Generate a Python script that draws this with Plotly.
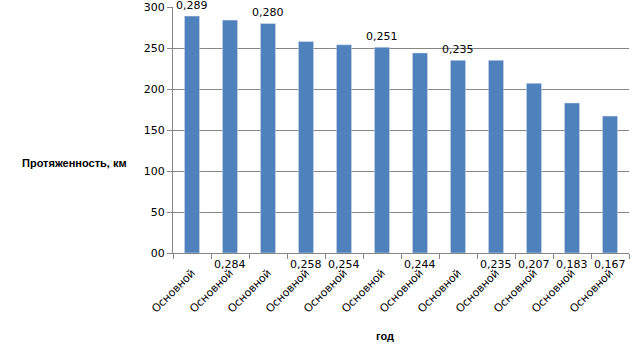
import plotly.graph_objects as go

categories = ["Основной"] * 12
values = [289, 284, 280, 258, 254, 251, 244, 235, 235, 207, 183, 167]
labels = ["0,289", "0,284", "0,280", "0,258", "0,254", "0,251",
          "0,244", "0,235", "0,235", "0,207", "0,183", "0,167"]
label_above = [True, False, True, False, False, True, False, True, False, False, False, False]
y_ticks = [0, 50, 100, 150, 200, 250, 300]
y_ticktext = ["00", "50", "100", "150", "200", "250", "300"]

FONT = "DejaVu Sans"
GRAY = "#868686"
x = list(range(len(values)))

fig = go.Figure()
fig.add_trace(go.Bar(x=x, y=values, marker_color="#4F81BD", width=0.4,
                     hoverinfo="skip", showlegend=False))
# invisible trace to activate the boundary tick axis
fig.add_trace(go.Scatter(x=[x[0]], y=[0], xaxis="x2", mode="markers",
                         marker=dict(opacity=0), showlegend=False, hoverinfo="skip"))

annotations = []
for xi, v, lab, above in zip(x, values, labels, label_above):
    if above:
        annotations.append(dict(x=xi, y=v, xref="x", yref="y", text=lab, showarrow=False,
                                yanchor="bottom", yshift=2,
                                font=dict(family=FONT, size=11, color="#000")))
    else:
        annotations.append(dict(x=xi, y=0, xref="x", yref="y", text=lab, showarrow=False,
                                yanchor="top", yshift=-3,
                                font=dict(family=FONT, size=11, color="#000")))

annotations.append(dict(x=20, y=163, xref="paper", yref="paper", text="<b>Протяженность, км</b>",
                        showarrow=False, xanchor="left", yanchor="middle",
                        font=dict(family="Liberation Sans", size=11, color="#000")))
annotations.append(dict(x=385, y=336, xref="paper", yref="paper", text="<b>год</b>",
                        showarrow=False, xanchor="center", yanchor="middle",
                        font=dict(family="Liberation Sans", size=11, color="#000")))

# convert pixel annotation positions to paper coords
W, H = 642, 362
L, R, T, B = 173, 13, 7, 109
pw, ph = W - L - R, H - T - B
for a in annotations[-2:]:
    a["x"] = (a["x"] - L) / pw
    a["y"] = (H - B - a["y"]) / ph

fig.update_layout(
    width=W, height=H,
    margin=dict(l=L, r=R, t=T, b=B, autoexpand=False),
    paper_bgcolor="white", plot_bgcolor="white",
    bargap=0.6,
    font=dict(family=FONT, size=11, color="#000"),
    xaxis=dict(range=[-0.5, 11.5], tickvals=x, ticktext=categories, tickangle=-45,
               automargin=False,
               showline=True, linecolor=GRAY, linewidth=1, showgrid=False, zeroline=False,
               ticks="outside", ticklen=8, tickcolor="rgba(0,0,0,0)",
               tickfont=dict(family=FONT, size=11, color="#000")),
    xaxis2=dict(range=[-0.5, 11.5], overlaying="x", side="bottom", anchor="y",
                automargin=False,
                tickvals=[i - 0.5 for i in range(len(values) + 1)],
                showticklabels=False, ticks="outside", ticklen=5, tickcolor=GRAY,
                showgrid=False, zeroline=False, showline=False),
    yaxis=dict(range=[0, 300], tickvals=y_ticks, ticktext=y_ticktext,
               automargin=False,
               showline=True, linecolor=GRAY, linewidth=1,
               showgrid=True, gridcolor=GRAY, gridwidth=1, zeroline=False,
               ticks="outside", ticklen=5, tickcolor=GRAY,
               tickfont=dict(family=FONT, size=11, color="#000")),
    annotations=annotations,
)

fig.write_html("out.html", config={"displayModeBar": False, "staticPlot": True},
               post_script="document.body.style.margin='0';document.body.style.overflow='hidden';")
